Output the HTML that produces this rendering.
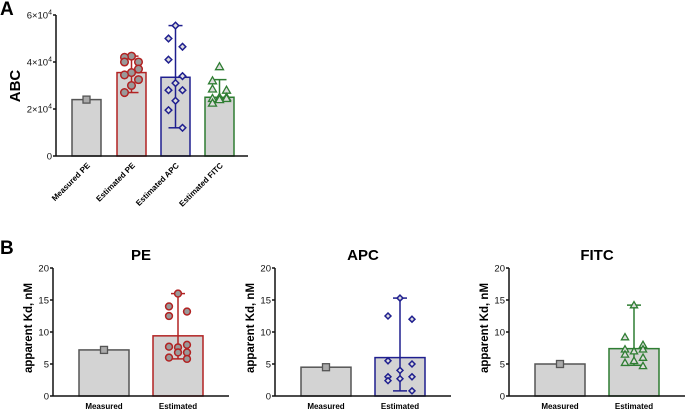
<!DOCTYPE html>
<html><head><meta charset="utf-8"><style>
body{margin:0;background:#fff;}
svg{display:block;font-family:"Liberation Sans",Arial,sans-serif;}
</style></head><body>
<svg id="c" width="685" height="410" viewBox="0 0 685 410" xmlns="http://www.w3.org/2000/svg">
<text x="0" y="15" font-size="19" font-weight="bold">A</text>
<text x="0" y="254" font-size="19" font-weight="bold">B</text>
</svg>
<script>
const NS="http://www.w3.org/2000/svg";
const svg=document.getElementById('c');
// Panel A data
const aCategories=["Measured PE","Estimated PE","Estimated APC","Estimated FITC"];
const aBarValues=[24000,35500,33500,25000];
const aErrLow=[null,27000,12000,24000];
const aErrHigh=[null,42500,55500,32500];
const aPoints=[[24000],[42500,42000,40000,40000,37000,35500,34500,32500,30000,27000],[55500,50000,46500,41000,34000,31000,28000,28000,23500,19500,12000],[38000,32000,28000,28500,25000,25000,24500,24500,24000,22500]];
const aTicks=[0,20000,40000,60000];
// Panel B data
const bCategories=["Measured","Estimated"];
const bTitles=["PE","APC","FITC"];
const bBarValues=[[7.2,9.4],[4.5,6.0],[5.0,7.4]];
const bErrLow=[5.8,0.8,4.8];
const bErrHigh=[16,15.3,14.2];
const bPoints=[[16,14,13.2,12.5,8,7.6,7.7,6.8,6.8,6,5.8],[15.3,12.5,12,5.5,5,4,3,3,2.7,2.4,0.8],[14.2,9.2,8,7.3,7.3,7,6.5,6,5.5,5.2,4.7]];
const bTicks=[0,5,10,15,20];
const colors=["#555","#b22222","#1f1f8f","#2e7d32"];
const shapes=["square","circle","diamond","triangle"];

function el(tag,attrs,parent){const e=document.createElementNS(NS,tag);for(const k in attrs)e.setAttribute(k,attrs[k]);(parent||svg).appendChild(e);return e;}
function marker(g,shape,x,y,col,s){
 let m;s=s||1;
 if(shape==="square")m=el('rect',{x:x-3.5,y:y-3.5,width:7,height:7,fill:'#aaa',stroke:col,'stroke-width':1.3},g);
 else if(shape==="circle")m=el('circle',{cx:x,cy:y,r:3.8*s,fill:'#999',stroke:col,'stroke-width':1.5},g);
 else if(shape==="diamond")m=el('polygon',{points:`${x},${y-3.3*s} ${x+3.3*s},${y} ${x},${y+3.3*s} ${x-3.3*s},${y}`,fill:'#ddd',stroke:col,'stroke-width':1.5},g);
 else m=el('polygon',{points:`${x},${y-4*s} ${x+4*s},${y+3*s} ${x-4*s},${y+3*s}`,fill:'#ddd',stroke:col,'stroke-width':1.3},g);
 
 
}
function jitter(n,i){
 const pat=[0,-1,1,-1,1,0,-1,1,0,-1,1];return pat[i%pat.length]*(n>2?1:0);
}
function bar(g,x0,x1,yv,y0,col,name){
 const r=el('rect',{x:x0,y:yv,width:x1-x0,height:y0-yv,fill:'#d3d3d3',stroke:col,'stroke-width':1.5},g);
 
 
}
function errbar(g,cx,yl,yh,col){
 const e=el('g',{stroke:col,'stroke-width':1.5},g);
 
 
 el('line',{x1:cx,x2:cx,y1:yl,y2:yh},e);
 el('line',{x1:cx-7,x2:cx+7,y1:yl,y2:yl},e);
 el('line',{x1:cx-7,x2:cx+7,y1:yh,y2:yh},e);
}
// Panel A
(function(){
 const g=el('g',{});
 
 
 const X0=56,Y0=156,Ytop=15,max=60000;
 const y=v=>Y0-(v/max)*(Y0-Ytop);
 const barL=[72,117,161,205],bw=29;
 aCategories.forEach((c,i)=>{
  const x0=barL[i],cx=x0+bw/2;
  bar(g,x0,x0+bw,y(aBarValues[i]),Y0,colors[i],'bar-'+c.toLowerCase().replace(/ /g,'-'));
  if(aErrLow[i]!==null)errbar(g,cx,y(aErrLow[i]),y(aErrHigh[i]),colors[i]);
  aPoints[i].forEach((v,k)=>marker(g,shapes[i],cx+jitter(aPoints[i].length,k)*7,y(v),colors[i]));
  const t=el('text',{x:0,y:0,'font-size':8,'font-weight':'bold','text-anchor':'end',transform:`translate(${cx+4},${Y0+10}) rotate(-45)`},g);
  t.textContent=c;
  
  
 });
 const ax=el('g',{stroke:'#111','stroke-width':1.5},g);
 
 
 el('line',{x1:X0,x2:X0,y1:Ytop,y2:Y0},ax);
 el('line',{x1:X0,x2:248,y1:Y0,y2:Y0},ax);
 aTicks.forEach(v=>{
  el('line',{x1:X0-3,x2:X0,y1:y(v),y2:y(v)},ax);
  const t=el('text',{x:X0-4,y:y(v)+3.5,'font-size':9.5,'text-anchor':'end',fill:'#111'},g);
  
  
  if(v===0)t.textContent='0';else{t.textContent=(v/10000)+'×10';const s=el('tspan',{dy:-4,'font-size':7},t);s.textContent='4';}
 });
 const yt=el('text',{x:0,y:0,'font-size':15,'font-weight':'bold','text-anchor':'middle',transform:`translate(20,86) rotate(-90)`},g);
 yt.textContent='ABC';
 
 
})();
// Panel B
const bAxisX=[53,275,509];
bTitles.forEach((title,p)=>{
 const g=el('g',{});
 
 
 const X0=bAxisX[p],Y0=396,Ytop=268,max=20;
 const y=v=>Y0-(v/max)*(Y0-Ytop);
 const barL=[X0+26,X0+100],bw=50;
 bCategories.forEach((c,i)=>{
  const x0=barL[i],cx=x0+bw/2,col=i===0?colors[0]:colors[p+1];
  bar(g,x0,x0+bw,y(bBarValues[p][i]),Y0,col,'bar-'+c.toLowerCase());
  if(i===0)marker(g,'square',cx,y(bBarValues[p][0]),col);
  else{
   errbar(g,cx,y(bErrLow[p]),y(bErrHigh[p]),col);
   bPoints[p].forEach((v,k)=>marker(g,shapes[p+1],cx+jitter(bPoints[p].length,k)*(p===1?12:9),y(v),col,0.9));
  }
  const t=el('text',{x:cx,y:Y0+13,'font-size':8,'font-weight':'bold','text-anchor':'middle'},g);
  t.textContent=c;
  
  
 });
 const ax=el('g',{stroke:'#111','stroke-width':1.5},g);
 
 
 el('line',{x1:X0,x2:X0,y1:Ytop,y2:Y0},ax);
 el('line',{x1:X0,x2:X0+176,y1:Y0,y2:Y0},ax);
 bTicks.forEach(v=>{
  el('line',{x1:X0-3,x2:X0,y1:y(v),y2:y(v)},ax);
  const t=el('text',{x:X0-4,y:y(v)+3.5,'font-size':9.5,'text-anchor':'end',fill:'#111'},g);
  t.textContent=v;
  
  
 });
 const yt=el('text',{x:0,y:0,'font-size':11.5,'font-weight':'bold','text-anchor':'middle',transform:`translate(${X0-21},328) rotate(-90)`},g);
 yt.textContent='apparent Kd, nM';
 
 
 const tt=el('text',{x:X0+88,y:260,'font-size':15,'font-weight':'bold','text-anchor':'middle'},g);
 tt.textContent=title;
 
 
});
</script>
</body></html>
